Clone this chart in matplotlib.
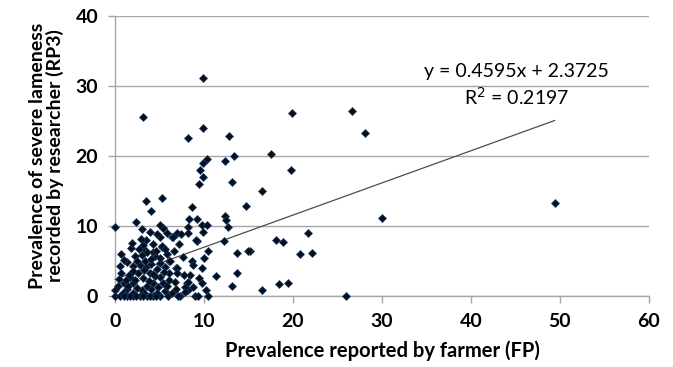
import matplotlib
matplotlib.use("Agg")
import matplotlib.pyplot as plt

plt.rcParams['font.family'] = ['Lato', 'DejaVu Sans']

# Farmer-reported prevalence (FP) and researcher-recorded severe lameness (RP3)
fp = [3.1, 9.85, 8.2, 9.85, 12.85, 19.9, 26.6, 28.1, 13.4, 17.5, 10.3, 12.4, 9.9, 9.55, 9.85, 9.4,
      13.2, 19.8, 16.55, 29.96, 49.4, 21.7, 18.05, 18.9, 20.75, 22.1, 16.55, 18.4, 19.4, 26.0, 15.2,
      14.7, 13.7, 14.9, 13.7, 13.2, 12.36, 12.5, 12.7, 12.3,
      3.45, 5.3, 4.1, 8.6, 8.3, 9.25, 9.8, 10.3, 8.17, 8.17, 7.0, 7.4, 6.4, 5.8, 5.43, 9.2, 9.85, 9.1,
      10.5, 10.0, 9.8, 11.3, 8.4, 8.05, 9.8, 8.8, 10.2, 8.2, 9.0, 10.4, 9.3, 7.3, 7.9, 8.2, 6.85, 6.1,
      5.24, 5.8, 6.2, 7.0, 7.0, 6.07, 6.74, 6.9, 7.9, 7.1, 6.0, 6.55,
      0.0, 2.4, 3.0, 5.4, 3.45, 5.1, 4.3, 1.76, 3.15, 0.7, 3.2, 5.25, 3.0, 4.5, 3.56, 2.7, 2.25, 4.3,
      0.56, 0.64, 2.06, 2.8, 3.5, 4.1, 5.05, 5.6, 4.7, 3.9, 2.6, 1.7, 3.2, 5.05, 6.1, 1.0, 2.06, 4.3,
      5.4, 0.0, 1.3, 3.0, 4.1, 5.6, 0.0, 0.56, 1.3, 2.06, 2.8, 3.56, 4.3, 5.05, 1.6, 0.9,
      1.5, 2.5, 3.6, 4.8, 2.3, 3.8, 4.5, 1.2, 2.0, 3.3, 4.3, 5.5, 1.4, 2.5, 3.4, 4.0, 5.0, 1.0, 2.0,
      3.3, 4.7, 5.8, 6.4, 0.4, 0.3, 1.9, 2.9, 4.7, 3.9, 5.0, 4.6, 5.6, 6.6, 7.6, 7.2, 8.6, 8.8, 7.8,
      9.4, 1.0, 1.7, 2.4, 3.1, 3.9, 4.6]
rp3 = [25.6, 31.1, 22.6, 24.0, 22.9, 26.2, 26.4, 23.3, 20.0, 20.3, 19.6, 19.3, 19.0, 18.0, 17.0, 16.0,
       16.3, 18.0, 15.0, 11.1, 13.3, 8.95, 8.0, 7.7, 6.0, 6.1, 0.86, 1.7, 1.8, 0.0, 6.4,
       12.8, 6.1, 6.4, 3.24, 1.43, 11.5, 10.9, 9.9, 7.8,
       13.6, 14.0, 12.1, 12.7, 11.0, 11.0, 10.1, 10.1, 9.8, 9.0, 9.0, 8.86, 8.5, 9.0, 9.67, 7.9, 9.1, 8.0,
       6.4, 5.48, 3.95, 2.86, 3.0, 1.9, 1.9, 1.24, 0.86, 0.86, 0.0, 0.0, 0.0, 0.0, 1.33, 2.05, 3.95, 5.05,
       7.05, 6.0, 4.95, 4.0, 3.3, 2.3, 2.05, 0.95, 0.6, 0.0, 0.0, 8.4,
       9.9, 10.6, 9.6, 9.7, 8.0, 8.5, 7.4, 6.8, 6.9, 6.0, 7.3, 7.14, 5.86, 5.7, 6.33, 6.67, 5.76, 6.3,
       4.3, 3.33, 4.3, 4.4, 4.2, 4.57, 4.67, 4.19, 3.8, 3.24, 3.24, 2.76, 2.52, 2.76, 3.24, 1.9, 1.81, 1.9,
       1.81, 0.86, 0.95, 0.86, 0.95, 0.76, 0.0, 0.0, 0.0, 0.0, 0.0, 0.0, 0.0, 0.0, 3.0, 0.4,
       1.4, 1.2, 1.5, 1.3, 2.3, 2.2, 2.8, 2.3, 3.6, 3.7, 3.2, 3.5, 4.9, 5.0, 5.0, 5.3, 5.5, 5.2, 0.4,
       0.4, 0.4, 1.4, 0.4, 2.4, 1.4, 7.6, 8.2, 8.8, 9.2, 10.2, 6.4, 6.7, 6.4, 5.6, 7.4, 5.0, 4.4, 3.0,
       2.6, 0.0, 0.0, 0.0, 0.0, 0.0, 0.0]

slope = 0.4595
intercept = 2.3725
r_squared = 0.2197

x_ticks = [0, 10, 20, 30, 40, 50, 60]
y_ticks = [0, 10, 20, 30, 40]

fig = plt.figure(figsize=(6.73, 3.67), dpi=100)
ax = fig.add_axes([115 / 673, 71 / 367, 534 / 673, 280 / 367])

grid_c = '#a6a6a6'
ax.set_xlim(0, 60)
ax.set_ylim(0, 40)
ax.set_xticks(x_ticks)
ax.set_yticks(y_ticks)
ax.yaxis.grid(True, color=grid_c, linewidth=1.0)
ax.set_axisbelow(True)
for s in ['top', 'right']:
    ax.spines[s].set_visible(False)
for s in ['left', 'bottom']:
    ax.spines[s].set_color(grid_c)
    ax.spines[s].set_linewidth(1.0)
ax.tick_params(axis='both', direction='out', length=5, width=1.0, color=grid_c,
               labelsize=14, labelcolor='black')
ax.tick_params(axis='y', pad=7)
ax.tick_params(axis='x', pad=7)
for lab in ax.get_xticklabels() + ax.get_yticklabels():
    lab.set_fontweight('bold')

# trendline across the data range
xmin, xmax = min(fp), max(fp)
ax.plot([xmin, xmax], [slope * xmin + intercept, slope * xmax + intercept],
        color='#4d4d4d', linewidth=0.9, zorder=2, clip_on=False)

ax.plot(fp, rp3, linestyle='none', marker='D', markersize=3.8,
        markerfacecolor='#05101f', markeredgecolor='#1f3b66', markeredgewidth=0.5,
        zorder=3, clip_on=False)

ax.text(45.1, 32.0, f'y = {slope}x + {intercept}', ha='center', va='center', fontsize=14)
ax.text(45.1, 28.4, f'R$^2$ = {r_squared}', ha='center', va='center', fontsize=14)

ax.set_xlabel('Prevalence reported by farmer (FP)', fontsize=14.5, fontweight='bold', labelpad=8)
ax.set_ylabel('Prevalence of severe lameness\nrecorded by researcher (RP3)', fontsize=14,
              fontweight='bold', labelpad=8, linespacing=1.05)

fig.savefig('out.png', dpi=100)
